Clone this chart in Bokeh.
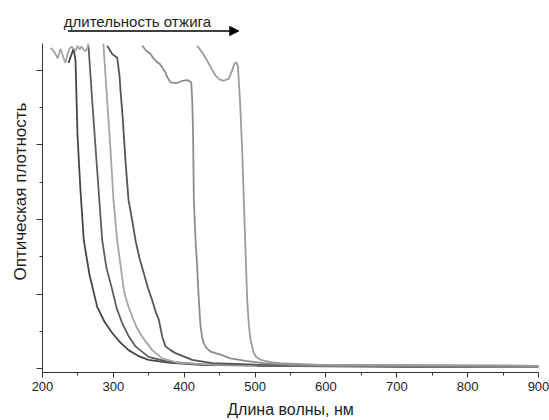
from bokeh.plotting import figure
from bokeh.layouts import column
from bokeh.models import Arrow, NormalHead, FixedTicker, Range1d, Title
from bokeh.embed import file_html
from bokeh.resources import INLINE
from bokeh.core.properties import value

# Absorption spectra after increasing annealing time (wavelength, nm / optical density)
wl_1 = [236.7, 243.8, 246.6, 249.4, 253.6, 258.3, 266.3, 277.2, 287.5, 298.4, 310.0,
        321.4, 335.5, 349.6, 380.6, 423.0, 507.7, 705.0, 900.0]
od_1 = [4.10, 4.29, 4.13, 3.13, 2.39, 1.72, 1.26, 0.83, 0.63, 0.48, 0.35,
        0.25, 0.17, 0.12, 0.08, 0.053, 0.04, 0.027, 0.027]

wl_2 = [264.9, 266.3, 270.1, 276.2, 284.3, 290.3, 298.4, 304.4, 312.5, 321.4, 331.3,
        349.6, 377.8, 423.0, 564.0, 900.0]
od_2 = [4.33, 4.13, 3.60, 2.79, 1.72, 1.35, 1.06, 0.82, 0.61, 0.44, 0.30,
        0.16, 0.094, 0.06, 0.04, 0.027]

# saturated (noisy) region first, then the absorption edge
wl_3 = [211.3, 215.5, 218.3, 221.2, 224.0, 225.4, 228.2, 231.0, 232.5, 235.3, 238.1,
        240.9, 243.8, 246.6, 249.4, 252.2, 255.0, 257.9, 260.7, 263.5, 265.5,
        285.5, 286.1, 287.5, 291.3, 296.0, 300.2, 305.4, 310.1, 314.7, 320.0,
        326.6, 332.7, 340.7, 354.8, 368.9, 392.0, 451.0, 900.0]
od_3 = [4.30, 4.26, 4.22, 4.16, 4.24, 4.29, 4.21, 4.13, 4.10, 4.22, 4.29,
        4.32, 4.29, 4.26, 4.33, 4.28, 4.32, 4.28, 4.26, 4.30, 4.40,
        4.40, 4.33, 4.13, 3.60, 2.93, 2.26, 1.72, 1.39, 1.06, 0.87,
        0.70, 0.56, 0.43, 0.25, 0.14, 0.08, 0.053, 0.027]

wl_4 = [291.3, 298.4, 305.4, 308.7, 310.1, 312.9, 317.1, 321.4, 326.6, 331.3, 336.9,
        343.0, 348.9, 354.8, 359.5, 364.1, 366.5, 368.9, 373.6, 380.6, 387.7,
        411.3, 439.5, 507.7, 900.0]
od_4 = [4.33, 4.22, 4.17, 3.93, 3.73, 3.40, 2.79, 2.26, 1.99, 1.72, 1.48,
        1.28, 1.08, 0.92, 0.77, 0.66, 0.55, 0.43, 0.30, 0.25, 0.21,
        0.12, 0.076, 0.053, 0.033]

wl_5 = [340.7, 346.8, 352.4, 356.7, 361.9, 365.1, 368.9, 371.5, 373.6, 376.0, 380.6,
        390.1, 397.2, 404.2, 409.9, 411.3, 412.4, 413.6, 416.0, 418.3, 420.6,
        423.0, 425.1, 427.6, 431.4, 437.1, 451.2, 465.3, 486.5, 511.9, 550.0,
        634.7, 900.0]
od_5 = [4.33, 4.26, 4.22, 4.16, 4.11, 4.09, 4.04, 4.00, 3.97, 3.91, 3.84,
        3.83, 3.86, 3.87, 3.84, 3.60, 3.20, 2.26, 1.72, 1.37, 0.92,
        0.57, 0.43, 0.34, 0.28, 0.23, 0.19, 0.14, 0.107, 0.076, 0.053,
        0.047, 0.04]

wl_6 = [418.3, 425.4, 430.0, 434.7, 439.2, 444.2, 449.8, 455.9, 462.9, 467.7, 470.9,
        473.5, 475.9, 477.0, 478.7, 481.8, 484.1, 486.5, 488.9, 491.2, 493.5,
        498.2, 502.0, 507.7, 521.8, 535.9, 592.3, 900.0]
od_6 = [4.33, 4.24, 4.17, 4.09, 4.01, 3.93, 3.88, 3.86, 3.89, 4.00, 4.09,
        4.11, 4.05, 3.86, 3.60, 2.93, 2.26, 1.59, 0.92, 0.59, 0.39,
        0.21, 0.154, 0.12, 0.09, 0.076, 0.053, 0.04]

series = [(wl_1, od_1, "#474747"),
          (wl_2, od_2, "#5e5e5e"),
          (wl_3, od_3, "#a5a5a5"),
          (wl_4, od_4, "#555555"),
          (wl_5, od_5, "#8c8c8c"),
          (wl_6, od_6, "#9c9c9c")]

x_ticks = [200, 300, 400, 500, 600, 700, 800, 900]
x_minor = [250, 350, 450, 550, 650, 750, 850]
y_ticks = [0, 1, 2, 3, 4]
y_minor = [0.5, 1.5, 2.5, 3.5]

FONT = "Liberation Sans"
x_range = Range1d(200, 900)

# --- header strip: "annealing time" arrow over the curves ---
head = figure(width=549, height=43, output_backend="svg", toolbar_location=None,
              x_range=x_range, y_range=Range1d(43, 0),
              x_axis_location=None, y_axis_location=None,
              min_border_left=42, min_border_right=11, min_border_top=0,
              min_border_bottom=0)
head.outline_line_color = None
head.grid.visible = False
head.text(x=[230.0], y=[20.5], text=["длительность отжига"],
          text_font=value(FONT), text_font_size="15px", text_color="#1e1e1e",
          text_baseline="alphabetic", text_align="left")
head.add_layout(Arrow(x_start=236.0, y_start=30.5, x_end=477.0, y_end=30.5,
                      line_color="black", line_width=1.5,
                      end=NormalHead(size=9, fill_color="black", line_color="black")))

# --- spectra ---
p = figure(width=549, height=377, output_backend="svg", toolbar_location=None,
           x_range=x_range, y_range=Range1d(-0.05, 4.36),
           min_border_left=42, min_border_right=11, min_border_top=0,
           min_border_bottom=47)
p.outline_line_color = None
p.grid.visible = False

for wl, od, col in series:
    p.line(wl, od, line_color=col, line_width=1.8)

xa = p.xaxis[0]
xa.ticker = FixedTicker(ticks=x_ticks, minor_ticks=x_minor)
xa.axis_label = "Длина волны, нм"
xa.axis_label_text_font = FONT
xa.axis_label_text_font_style = "normal"
xa.axis_label_text_font_size = "16px"
xa.axis_label_text_color = "#1e1e1e"
xa.axis_label_standoff = 7
xa.major_label_text_font = FONT
xa.major_label_text_font_size = "13px"
xa.major_label_text_color = "#1e1e1e"
xa.major_label_standoff = 4
xa.axis_line_color = "#333333"
xa.major_tick_line_color = "#333333"
xa.minor_tick_line_color = "#333333"
xa.major_tick_in = 0
xa.major_tick_out = 5
xa.minor_tick_in = 0
xa.minor_tick_out = 3

# y axis carries tick marks only; its title sits in a side panel
ya = p.yaxis[0]
ya.ticker = FixedTicker(ticks=y_ticks, minor_ticks=y_minor)
ya.major_label_text_font_size = "1px"
ya.major_label_text_color = None
ya.major_label_standoff = 0
ya.axis_line_color = "#333333"
ya.major_tick_line_color = "#333333"
ya.minor_tick_line_color = "#333333"
ya.major_tick_in = 0
ya.major_tick_out = 6
ya.minor_tick_in = 0
ya.minor_tick_out = 3

p.add_layout(Title(text="Оптическая плотность", align="left", offset=92,
                   text_font=FONT, text_font_style="normal", text_font_size="17px",
                   text_color="#1e1e1e", standoff=13), "left")

layout = column(head, p, spacing=0)
open("out.html", "w").write(file_html(layout, INLINE))
